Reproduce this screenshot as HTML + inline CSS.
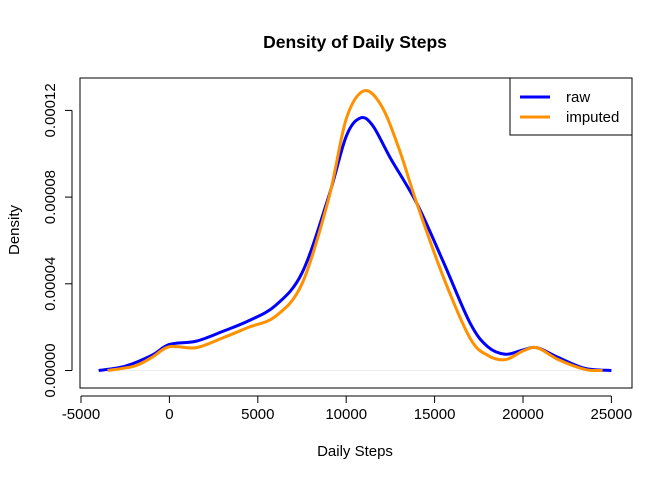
<!DOCTYPE html>
<html><head><meta charset="utf-8"><style>body{margin:0;background:#fff}svg{display:block;font-family:"Liberation Sans",Arial,sans-serif}</style></head>
<body>
<svg id="c" width="672" height="480">
<text x="355" y="48" text-anchor="middle" font-size="17.5" font-weight="bold">Density of Daily Steps</text>
<rect x="80" y="78" width="552" height="310" fill="none" stroke="#000"/>
<text x="355" y="456" text-anchor="middle" font-size="15">Daily Steps</text>
<text transform="translate(19,230) rotate(-90)" text-anchor="middle" font-size="15">Density</text>
<g id="ax"></g><g id="series"></g>
<g>
<rect x="510" y="78" width="122" height="57" fill="#fff" stroke="#000"/>
<line x1="520" y1="97" x2="550" y2="97" stroke="#0000ff" stroke-width="3"/>
<text x="566" y="102" font-size="15">raw</text>
<line x1="520" y1="117" x2="550" y2="117" stroke="#ff9000" stroke-width="3"/>
<text x="566" y="122" font-size="15">imputed</text>
</g>
</svg>
<script>
const xTicks=[-5000,0,5000,10000,15000,20000,25000];
const yTicks=[0,0.00004,0.00008,0.00012];
const yTickLabels=["0.00000","0.00004","0.00008","0.00012"];
const rawX=[-4000,-2500,-1000,0,1500,3000,4500,6000,7500,9000,10000,10800,11500,12500,14000,15500,17000,18000,19000,20000,20800,22000,23500,25000];
const rawY=[0,0.000002,0.000007,0.000012,0.0000135,0.000018,0.000023,0.000030,0.000045,0.000080,0.000108,0.0001165,0.000113,0.000098,0.000077,0.000050,0.000022,0.000011,0.0000075,0.0000095,0.0000105,0.000006,0.000001,0];
const impX=[-3500,-2000,-1000,0,1500,3000,4500,6000,7500,9000,10000,11000,12000,13000,14000,15500,17000,18000,19000,20000,20800,22000,23500,24500];
const impY=[0,0.000002,0.000006,0.000011,0.0000105,0.000015,0.000020,0.000025,0.000040,0.000079,0.000116,0.000129,0.000122,0.000102,0.000077,0.000043,0.000015,0.000007,0.000005,0.000009,0.0000105,0.000005,0.0000005,0];
const NS="http://www.w3.org/2000/svg";
const sx=v=>81+(v+5000)/5000*88.4;
const sy=v=>370.5-v/0.00004*86.7;
const ax=document.getElementById('ax');
function mk(t,a,p){const e=document.createElementNS(NS,t);for(const k in a)e.setAttribute(k,a[k]);(p||ax).appendChild(e);return e;}
mk('line',{x1:sx(xTicks[0]),x2:sx(xTicks[xTicks.length-1]),y1:396,y2:396,stroke:'#000'});
xTicks.forEach(t=>{mk('line',{x1:sx(t),x2:sx(t),y1:396,y2:403,stroke:'#000'});
const e=mk('text',{x:sx(t),y:419,'text-anchor':'middle','font-size':15});e.textContent=t;

});
mk('line',{x1:72,x2:72,y1:sy(yTicks[0]),y2:sy(yTicks[yTicks.length-1]),stroke:'#000'});
yTicks.forEach((t,i)=>{mk('line',{x1:65,x2:72,y1:sy(t),y2:sy(t),stroke:'#000'});
const e=mk('text',{transform:`translate(55,${sy(t)}) rotate(-90)`,'text-anchor':'middle','font-size':15});e.textContent=yTickLabels[i];

});
mk('line',{x1:sx(-4000),x2:sx(25000),y1:sy(0),y2:sy(0),stroke:'#eee'});
function path(X,Y){const p=X.map((x,i)=>[sx(x),sy(Y[i])]);let d=`M${p[0][0]},${p[0][1]}`;
for(let i=0;i<p.length-1;i++){const p0=p[Math.max(0,i-1)],p1=p[i],p2=p[i+1],p3=p[Math.min(p.length-1,i+2)];
d+=`C${p1[0]+(p2[0]-p0[0])/6},${p1[1]+(p2[1]-p0[1])/6} ${p2[0]-(p3[0]-p1[0])/6},${p2[1]-(p3[1]-p1[1])/6} ${p2[0]},${p2[1]}`;}return d;}
const g=document.getElementById('series');
const r=mk('path',{d:path(rawX,rawY),fill:'none',stroke:'#0000ff','stroke-width':3},g);


const m=mk('path',{d:path(impX,impY),fill:'none',stroke:'#ff9000','stroke-width':3},g);


</script>
</body></html>
